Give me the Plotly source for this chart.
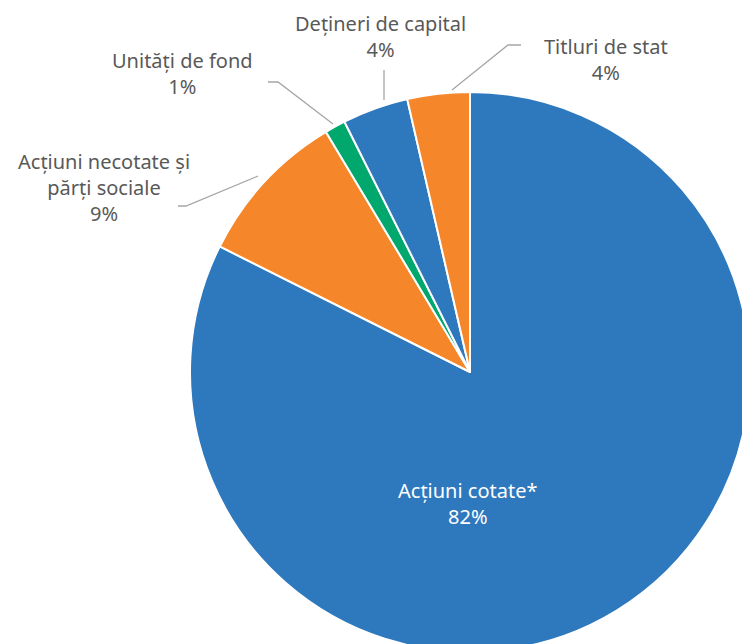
import plotly.graph_objects as go

# portfolio structure (share of total, %)
labels = ["Acțiuni cotate*", "Acțiuni necotate și<br>părți sociale", "Unități de fond",
          "Dețineri de capital", "Titluri de stat"]
values = [82.4, 9.0, 1.2, 3.8, 3.6]
colors = ["#2E78BE", "#F5872A", "#00A86E", "#2E78BE", "#F5872A"]

W, H = 760, 664
FONT = "Noto Sans"
GREY = "#595959"
LINE = "#A6A6A6"


def px(x):
    return x / W


def py(y):
    return 1 - y / H


total = sum(values)
pcts = [round(v / total * 100) for v in values]
texts = ["%s<br>%d%%" % (l, p) for l, p in zip(labels, pcts)]

fig = go.Figure(go.Pie(
    labels=labels,
    values=values,
    sort=False,
    direction="clockwise",
    rotation=0,
    marker=dict(colors=colors, line=dict(color="white", width=2)),
    textinfo="none",
    hoverinfo="label+percent",
    showlegend=False,
    domain=dict(x=[px(190), px(750)], y=[py(652), py(92)]),
))

# label positions (pixel centres), Excel-style
label_pos = [(468, 503), (104, 188), (182, 73), (381, 36), (606, 59)]
label_col = ["white", GREY, GREY, GREY, GREY]
annotations = []
for t, (x, y), c in zip(texts, label_pos, label_col):
    annotations.append(dict(
        x=px(x), y=py(y), xref="paper", yref="paper", text=t, showarrow=False,
        font=dict(family=FONT, size=20, color=c), align="center",
        xanchor="center", yanchor="middle"))

# leader lines
leaders = [
    [(178, 206), (186, 206), (258, 176)],
    [(268, 82), (278, 82), (333, 124)],
    [(384, 70), (384, 100)],
    [(521, 45), (508, 45), (452, 90)],
]
shapes = []
for pts in leaders:
    path = "M " + " L ".join("%f,%f" % (px(x), py(y)) for x, y in pts)
    shapes.append(dict(type="path", path=path, xref="paper", yref="paper",
                       line=dict(color=LINE, width=1.3)))

fig.update_layout(
    width=W, height=H,
    margin=dict(l=0, r=0, t=0, b=0),
    paper_bgcolor="white",
    annotations=annotations,
    shapes=shapes,
)

fig.write_html("out.html", config={"displayModeBar": False}, post_script=(
    "document.body.style.margin='0';"
    "document.body.style.overflow='hidden';"
    "document.documentElement.style.overflow='hidden';"))
